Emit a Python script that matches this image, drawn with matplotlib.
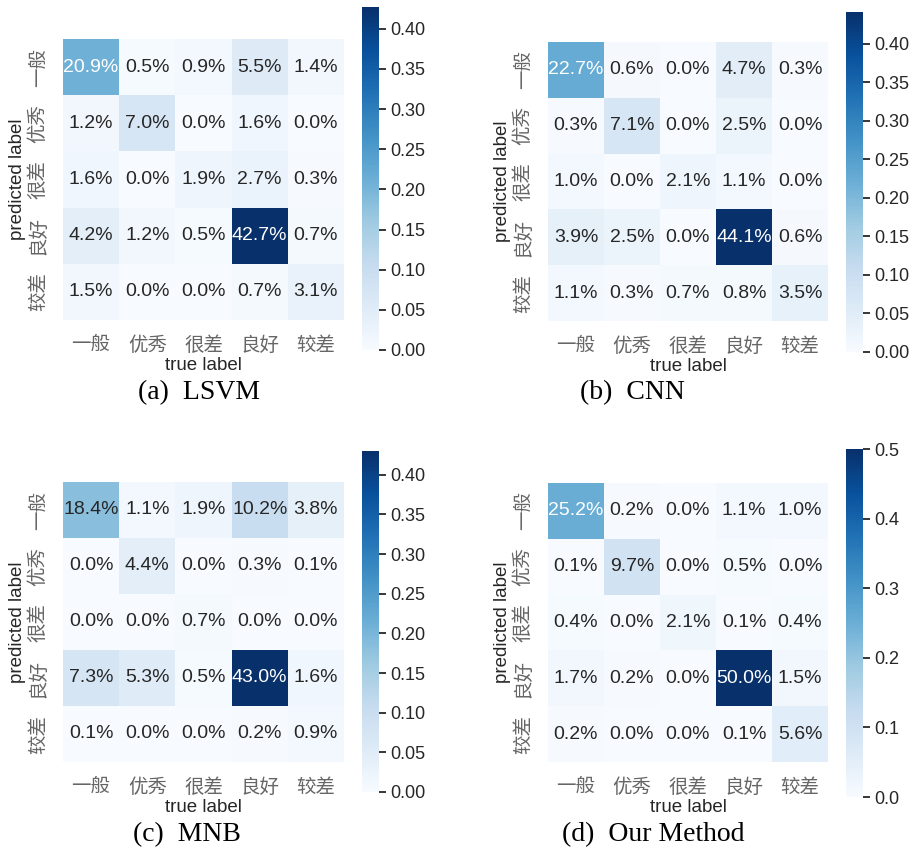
import matplotlib
matplotlib.use("Agg")
import matplotlib.pyplot as plt
import numpy as np
import seaborn as sns

sns.set_theme(style="white")
plt.rcParams['font.family'] = ['Liberation Sans', 'Noto Sans CJK SC']

labels = ["一般", "优秀", "很差", "良好", "较差"]

# rows: predicted label, columns: true label (percent of all samples)
lsvm = [[20.9, 0.5, 0.9, 5.5, 1.4],
        [1.2, 7.0, 0.0, 1.6, 0.0],
        [1.6, 0.0, 1.9, 2.7, 0.3],
        [4.2, 1.2, 0.5, 42.7, 0.7],
        [1.5, 0.0, 0.0, 0.7, 3.1]]

cnn = [[22.7, 0.6, 0.0, 4.7, 0.3],
       [0.3, 7.1, 0.0, 2.5, 0.0],
       [1.0, 0.0, 2.1, 1.1, 0.0],
       [3.9, 2.5, 0.0, 44.1, 0.6],
       [1.1, 0.3, 0.7, 0.8, 3.5]]

mnb = [[18.4, 1.1, 1.9, 10.2, 3.8],
       [0.0, 4.4, 0.0, 0.3, 0.1],
       [0.0, 0.0, 0.7, 0.0, 0.0],
       [7.3, 5.3, 0.5, 43.0, 1.6],
       [0.1, 0.0, 0.0, 0.2, 0.9]]

ours = [[25.2, 0.2, 0.0, 1.1, 1.0],
        [0.1, 9.7, 0.0, 0.5, 0.0],
        [0.4, 0.0, 2.1, 0.1, 0.4],
        [1.7, 0.2, 0.0, 50.0, 1.5],
        [0.2, 0.0, 0.0, 0.1, 5.6]]

captions = ["(a)  LSVM", "(b)  CNN", "(c)  MNB", "(d)  Our Method"]

W, H = 919, 851
fig = plt.figure(figsize=(W / 100, H / 100), dpi=100)


def px(x0, y0, x1, y1):
    # pixel box (top-left origin) -> figure fraction rect
    return [x0 / W, 1 - y1 / H, (x1 - x0) / W, (y1 - y0) / H]


# heatmap box, colorbar box, caption (left x, center y)
panels = [
    ((63, 39, 344, 320), (362, 7, 379, 350), (138, 393)),
    ((548, 42, 828, 321), (846, 12, 863, 352), (580, 393)),
    ((63, 482, 344, 762), (362, 451, 379, 792), (133, 835)),
    ((548, 483, 828, 762), (846, 449, 863, 797), (562, 835)),
]

for mat, cap, (hm_box, cb_box, cap_pos) in zip([lsvm, cnn, mnb, ours], captions, panels):
    data = np.array(mat) / 100.0
    ax = fig.add_axes(px(*hm_box))
    cax = fig.add_axes(px(*cb_box))
    sns.heatmap(data, ax=ax, cbar_ax=cax, cmap="Blues", vmin=0, vmax=data.max(),
                annot=True, fmt=".1%", annot_kws={"fontsize": 14},
                xticklabels=labels, yticklabels=labels)
    ax.tick_params(axis="x", length=0, labelsize=14, pad=12)
    ax.tick_params(axis="y", length=0, labelsize=14, pad=11)
    plt.setp(ax.get_yticklabels(), rotation=90, va="center")
    plt.setp(ax.get_xticklabels(), rotation=0)
    for t in ax.get_xticklabels() + ax.get_yticklabels():
        t.set_color("#666666")
    ax.set_xlabel("true label", fontsize=13.5, labelpad=1)
    ax.set_ylabel("predicted label", fontsize=13.5, labelpad=2)
    cax.tick_params(right=True, length=5, width=1.3, color=".15", labelsize=13, pad=3)
    fig.text(cap_pos[0] / W, 1 - cap_pos[1] / H, cap, fontsize=20,
             family="Liberation Serif", ha="left", va="center", color="black")

fig.savefig("out.png", dpi=100)
